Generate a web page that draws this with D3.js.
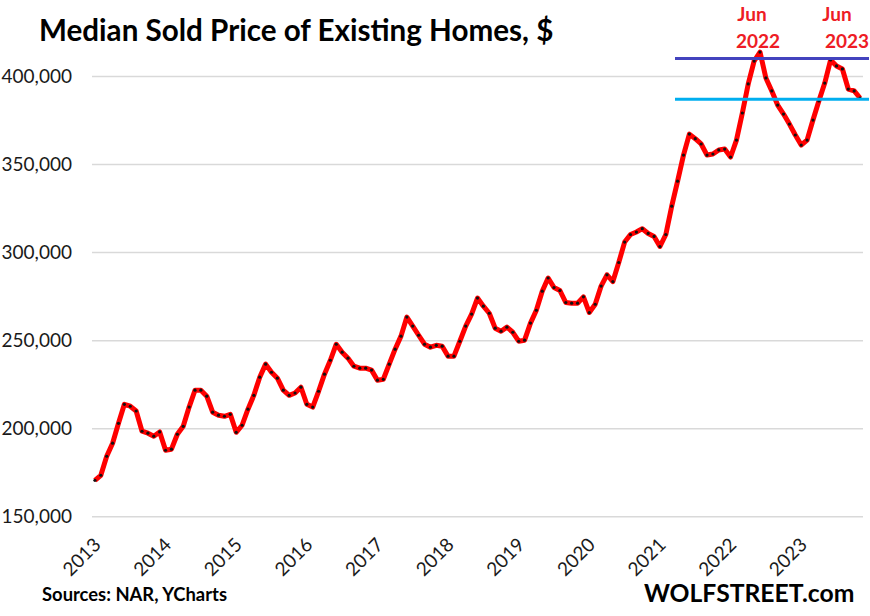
<!DOCTYPE html>
<html>
<body style="margin:0;background:#fff">
<script src="https://d3js.org/d3.v7.min.js"></script>
<svg id="chart" width="870" height="616" style="display:block"></svg>
<script>
// monthly median price, one array per year
const y2013 = [170400,173300,184100,191500,202800,213600,212500,209800,198300,197200,195500,197900];
const y2014 = [187500,188100,196600,201100,212000,221600,221600,218200,209100,207400,206800,207900];
const y2015 = [197700,201700,210800,218700,229000,236400,231800,228400,221600,218700,220000,223300];
const y2016 = [213600,212000,221000,230700,238600,247700,243200,239800,235200,234100,234100,233000];
const y2017 = [227300,227800,236400,244900,252300,263100,258000,252800,247700,246000,247100,246600];
const y2018 = [240900,240900,249400,258000,264800,273900,269300,265300,256800,255100,257400,254500];
const y2019 = [249400,250000,259700,267000,277800,285300,279900,278200,271400,271000,271000,274600];
const y2020 = [265700,270400,280700,287100,283300,294100,305700,310000,311400,313300,310600,308900];
const y2021 = [303200,310000,326100,340300,355100,367000,364400,361400,355100,355700,358000,358500];
const y2022 = [354000,363600,379000,395500,408500,413600,398900,391500,383500,378400,372700,366500];
const y2023 = [360800,363600,375000,385800,396000,409100,405700,404000,392600,391500,387500];

const years = [2013,2014,2015,2016,2017,2018,2019,2020,2021,2022,2023];
const prices = [].concat(y2013,y2014,y2015,y2016,y2017,y2018,y2019,y2020,y2021,y2022,y2023);
const yTicks = [150000,200000,250000,300000,350000,400000];
const refLines = [
  {value: 409900, color: "#4343BE"},
  {value: 386800, color: "#00AEEF"}
];
const peakLabels = [
  {top: "Jun", bottom: "2022", topX: 752, bottomX: 758},
  {top: "Jun", bottom: "2023", topX: 837, bottomX: 847}
];

const font = "Lato, Carlito, sans-serif";
const svg = d3.select("#chart");

// one band per month, year ticks sit on the January band
const x = d3.scaleBand().domain(d3.range(prices.length)).range([92, 863]);
const y = d3.scaleLinear().domain([150000, 400000]).range([516.3, 76]);
const mid = i => x(i) + x.bandwidth() / 2;

// gridlines + y labels
const yAxis = d3.axisLeft(y).tickValues(yTicks).tickFormat(d3.format(",")).tickSize(-771).tickPadding(18);
const gy = svg.append("g").attr("transform", "translate(92,0)").call(yAxis);
gy.select(".domain").remove();
gy.selectAll("line").attr("stroke", "#d9d9d9").attr("stroke-width", 1.5);
gy.selectAll("text").attr("x", -20).attr("fill", "#1a1a1a").style("font", "19px " + font);

// year labels, rotated
const xAxis = d3.axisBottom(x)
  .tickValues(years.map((d, i) => i * 12))
  .tickFormat(i => years[i / 12])
  .tickSize(0);
const gx = svg.append("g").attr("transform", "translate(0,516)").call(xAxis);
gx.select(".domain").remove();
gx.selectAll("text")
  .attr("fill", "#1a1a1a")
  .style("font", "19px " + font)
  .attr("text-anchor", "end")
  .attr("dy", 0).attr("y", 0)
  .attr("transform", "translate(7,30) rotate(-45)");

// the price line
const line = d3.line().x((d, i) => mid(i)).y(d => y(d));
svg.append("path").datum(prices)
  .attr("fill", "none").attr("stroke", "#ff0000").attr("stroke-width", 5)
  .attr("stroke-linejoin", "round")
  .attr("d", line);
svg.append("g").selectAll("circle").data(prices).join("circle")
  .attr("cx", (d, i) => mid(i)).attr("cy", d => y(d)).attr("r", 1.6).attr("fill", "#111");

// reference lines at the two peaks
svg.append("g").selectAll("line").data(refLines).join("line")
  .attr("x1", 675).attr("x2", 869)
  .attr("y1", d => y(d.value)).attr("y2", d => y(d.value))
  .attr("stroke", d => d.color).attr("stroke-width", 3);

// peak labels
const peak = svg.append("g").attr("fill", "#ee1c25").attr("text-anchor", "middle")
  .style("font", "bold 19px " + font);
peak.selectAll(".top").data(peakLabels).join("text").attr("class", "top")
  .attr("x", d => d.topX).attr("y", 21).text(d => d.top);
peak.selectAll(".bottom").data(peakLabels).join("text").attr("class", "bottom")
  .attr("x", d => d.bottomX).attr("y", 48).text(d => d.bottom);

// title and footers
svg.append("text").attr("x", 39).attr("y", 41).attr("fill", "#000")
  .style("font", "bold 29.6px " + font).text("Median Sold Price of Existing Homes, $");
svg.append("text").attr("x", 42).attr("y", 601).attr("fill", "#000")
  .style("font", "bold 18.4px " + font).text("Sources: NAR, YCharts");
svg.append("text").attr("x", 644).attr("y", 602).attr("fill", "#000")
  .style("font", "bold 24.7px " + font).text("WOLFSTREET.com");
</script>
</body>
</html>
